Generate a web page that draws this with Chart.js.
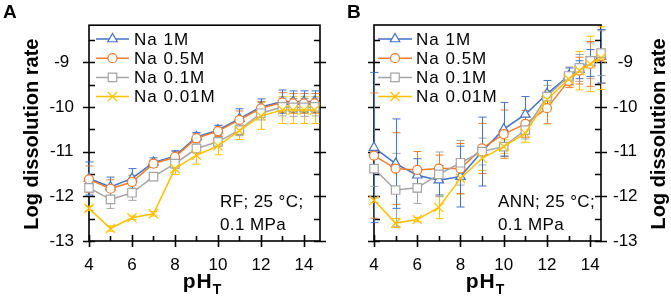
<!DOCTYPE html>
<html>
<head>
<meta charset="utf-8">
<script src="https://cdn.jsdelivr.net/npm/chart.js@4"></script>
<style>
  body { margin: 0; background: #fff; }
  #wrap { position: relative; width: 671px; height: 297px; }
  #chartA { position: absolute; left: 0; top: 0; }
  #chartB { position: absolute; left: 335px; top: 0; }
</style>
</head>
<body>
<div id="wrap">
  <canvas id="chartA" width="335" height="297"></canvas>
  <canvas id="chartB" width="336" height="297"></canvas>
</div>
<script>
// pH points shared by every series
const phValues = [4, 5, 6, 7, 8, 9, 10, 11, 12, 13, 13.5, 14, 14.5];

const seriesNames = ['Na 1M', 'Na 0.5M', 'Na 0.1M', 'Na 0.01M'];
const seriesColors = ['#4472C4', '#ED7D31', '#A5A5A5', '#FFC000'];
const seriesMarkers = ['triangle', 'circle', 'rect', 'crossRot'];
const markerRadius = [5.5, 4.5, 6, 6.5];

// panel A : RF
const rf1M   = [-11.60, -11.79, -11.60, -11.24, -11.10, -10.67, -10.52, -10.26, -10.00, -9.88, -9.88, -9.88, -9.88];
const rf05M  = [-11.62, -11.83, -11.68, -11.27, -11.12, -10.70, -10.54, -10.29, -10.03, -9.90, -9.92, -9.92, -9.92];
const rf01M  = [-11.81, -12.07, -11.92, -11.56, -11.27, -10.93, -10.78, -10.52, -10.14, -10.00, -10.01, -10.01, -10.00];
const rf001M = [-12.27, -12.72, -12.48, -12.39, -11.38, -11.08, -10.87, -10.53, -10.20, -10.07, -10.07, -10.07, -10.07];
const rf1MErr   = [0.37, 0.22, 0.22, 0.10, 0.12, 0.10, 0.11, 0.22, 0.18, 0.26, 0.24, 0.24, 0.24];
const rf05MErr  = [0.30, 0.20, 0.15, 0.08, 0.12, 0.10, 0.12, 0.20, 0.15, 0.22, 0.22, 0.22, 0.22];
const rf01MErr  = [0.17, 0.20, 0.17, 0.05, 0.10, 0.10, 0.10, 0.12, 0.15, 0.20, 0.20, 0.20, 0.20];
const rf001MErr = [0.05, 0.06, 0.04, 0.05, 0.13, 0.20, 0.20, 0.20, 0.30, 0.30, 0.30, 0.30, 0.30];

// panel B : ANN
const ann1M   = [-10.91, -11.27, -11.53, -11.64, -11.56, -11.00, -10.50, -10.17, -9.71, -9.31, -9.17, -9.02, -8.87];
const ann05M  = [-11.09, -11.38, -11.41, -11.38, -11.38, -10.93, -10.61, -10.38, -10.03, -9.42, -9.19, -9.04, -8.87];
const ann01M  = [-11.38, -11.86, -11.81, -11.51, -11.25, -11.00, -10.89, -10.52, -9.77, -9.31, -9.13, -8.97, -8.80];
const ann001M = [-12.09, -12.60, -12.52, -12.25, -11.60, -11.15, -10.89, -10.59, -9.84, -9.38, -9.19, -9.04, -8.91];
const ann1MErr   = [1.68, 1.00, 0.37, 0.33, 0.68, 0.77, 0.60, 0.40, 0.30, 0.18, 0.20, 0.30, 0.60];
const ann05MErr  = [1.40, 0.80, 0.41, 0.30, 0.56, 0.56, 0.54, 0.30, 0.35, 0.15, 0.30, 0.50, 0.60];
const ann01MErr  = [0.40, 0.82, 0.35, 0.50, 0.50, 0.30, 0.22, 0.20, 0.25, 0.20, 0.30, 0.40, 0.50];
const ann001MErr = [0.05, 0.10, 0.05, 0.25, 0.35, 0.27, 0.15, 0.20, 0.20, 0.15, 0.43, 0.62, 0.70];

// axis ticks
const yMajorTicks = [-13, -12, -11, -10, -9];
const yMinorTicks = [-12.5, -11.5, -10.5, -9.5, -8.5];
const xMajorTicks = [4, 6, 8, 10, 12, 14];
const xMinorTicks = [5, 7, 9, 11, 13];

const FONT = "'Liberation Sans', Arial, sans-serif";

// frame, crossing tick marks, error bars, legend and labels
const panelPlugin = {
  id: 'panel',
  beforeDatasetsDraw(chart, args, o) {
    const ctx = chart.ctx, a = chart.chartArea;
    const xs = chart.scales.x, ys = chart.scales.y;
    ctx.save();
    ctx.strokeStyle = '#000';
    ctx.lineWidth = 1.6;
    ctx.strokeRect(a.left, a.top, a.right - a.left, a.bottom - a.top);
    ctx.beginPath();
    yMajorTicks.forEach(v => {
      const y = Math.round(ys.getPixelForValue(v)) + 0.5;
      ctx.moveTo(a.left - 6, y); ctx.lineTo(a.left + 6, y);
      ctx.moveTo(a.right - 6, y); ctx.lineTo(a.right + 6, y);
    });
    yMinorTicks.forEach(v => {
      const y = Math.round(ys.getPixelForValue(v)) + 0.5;
      ctx.moveTo(a.left, y); ctx.lineTo(a.left + 6, y);
      ctx.moveTo(a.right - 6, y); ctx.lineTo(a.right, y);
    });
    xMajorTicks.forEach(v => {
      const x = Math.round(xs.getPixelForValue(v)) + 0.5;
      ctx.moveTo(x, a.bottom - 6); ctx.lineTo(x, a.bottom + 6);
    });
    xMinorTicks.forEach(v => {
      const x = Math.round(xs.getPixelForValue(v)) + 0.5;
      ctx.moveTo(x, a.bottom - 5); ctx.lineTo(x, a.bottom);
    });
    ctx.stroke();

    // error bars
    ctx.lineWidth = 1;
    chart.data.datasets.slice().reverse().forEach(ds => {
      ctx.strokeStyle = ds.borderColor;
      ctx.beginPath();
      ds.data.forEach((p, i) => {
        const e = ds.errors[i];
        const x = Math.round(xs.getPixelForValue(p.x)) + 0.5;
        const y1 = ys.getPixelForValue(p.y + e);
        const y2 = ys.getPixelForValue(p.y - e);
        ctx.moveTo(x, y1); ctx.lineTo(x, y2);
        ctx.moveTo(x - 4, y1); ctx.lineTo(x + 4, y1);
        ctx.moveTo(x - 4, y2); ctx.lineTo(x + 4, y2);
      });
      ctx.stroke();
    });
    ctx.restore();
  },
  afterDraw(chart, args, o) {
    const ctx = chart.ctx, a = chart.chartArea;
    ctx.save();
    ctx.fillStyle = '#000';

    // panel letter
    ctx.font = 'bold 19px ' + FONT;
    ctx.textBaseline = 'alphabetic';
    ctx.textAlign = 'left';
    ctx.fillText(o.letter, o.letterX, 18);

    // legend inside the plot
    const lg = o.legend;
    chart.data.datasets.forEach((ds, i) => {
      const y = lg.y0 + i * lg.dy;
      ctx.strokeStyle = ds.borderColor;
      ctx.lineWidth = 1.5;
      ctx.beginPath();
      ctx.moveTo(lg.x1, y); ctx.lineTo(lg.x2, y);
      ctx.stroke();
      ctx.fillStyle = '#fff';
      ctx.lineWidth = 1.2;
      Chart.helpers.drawPoint(ctx, {
        pointStyle: ds.pointStyle, radius: ds.pointRadius, borderWidth: 1.2, rotation: 0
      }, (lg.x1 + lg.x2) / 2, y);
      ctx.fillStyle = '#000';
      ctx.font = '17px ' + FONT;
      ctx.letterSpacing = '1px';
      ctx.textBaseline = 'middle';
      ctx.fillText(ds.label, lg.textX, y + 1);
      ctx.letterSpacing = '0px';
    });

    // condition note
    ctx.font = '17px ' + FONT;
    ctx.letterSpacing = '0.4px';
    ctx.textBaseline = 'middle';
    ctx.textAlign = 'left';
    ctx.fillText(o.note[0], o.noteX, 202);
    ctx.fillText(o.note[1], o.noteX, 225);
    ctx.letterSpacing = '0px';

    // x title pH with subscript T
    ctx.textBaseline = 'alphabetic';
    ctx.font = 'bold 21px ' + FONT;
    ctx.letterSpacing = '1px';
    const w1 = ctx.measureText('pH').width;
    ctx.font = 'bold 14px ' + FONT;
    const w2 = ctx.measureText('T').width;
    const cx = (a.left + a.right) / 2 - 2;
    ctx.font = 'bold 21px ' + FONT;
    ctx.fillText('pH', cx - (w1 + w2) / 2, 288);
    ctx.font = 'bold 14px ' + FONT;
    ctx.fillText('T', cx - (w1 + w2) / 2 + w1, 294);
    ctx.letterSpacing = '0px';

    // y title, reading bottom to top
    ctx.translate(o.yTitleX, (a.top + a.bottom) / 2 + 1);
    ctx.rotate(-Math.PI / 2);
    ctx.font = 'bold 20px ' + FONT;
    ctx.textAlign = 'center';
    ctx.textBaseline = 'middle';
    ctx.fillText('Log dissolution rate', 0, 0);
    ctx.restore();
  }
};

function makeDatasets(valueLists, errorLists) {
  return valueLists.map((vals, i) => ({
    label: seriesNames[i],
    data: phValues.map((x, j) => ({ x: x, y: vals[j] })),
    errors: errorLists[i],
    borderColor: seriesColors[i],
    backgroundColor: '#fff',
    borderWidth: 1.5,
    pointStyle: seriesMarkers[i],
    pointRadius: markerRadius[i],
    pointBorderWidth: 1.2,
    pointBorderColor: seriesColors[i],
    pointBackgroundColor: '#fff',
    tension: 0,
    clip: false,
    order: 3 - i
  }));
}

function makePanel(id, datasets, p) {
  return new Chart(document.getElementById(id).getContext('2d'), {
    type: 'line',
    data: { datasets: datasets },
    plugins: [panelPlugin],
    options: {
      responsive: false,
      animation: false,
      events: [],
      layout: { padding: { left: p.padLeft, right: p.padRight, top: 25, bottom: 0 } },
      plugins: {
        legend: { display: false },
        tooltip: { enabled: false },
        panel: p
      },
      scales: {
        x: {
          type: 'linear',
          position: 'bottom',
          min: 4,
          max: p.xMax,
          grid: { display: false, drawTicks: false },
          border: { display: false },
          ticks: {
            stepSize: 2,
            includeBounds: false,
            autoSkip: false,
            maxRotation: 0,
            padding: 14,
            color: '#000',
            font: { family: FONT, size: 17 }
          },
          afterFit: function(scale) { scale.height = 56; }
        },
        y: {
          type: 'linear',
          position: p.yPos,
          min: -13,
          max: -8.17,
          grid: { display: false, drawTicks: false },
          border: { display: false },
          ticks: {
            stepSize: 1,
            includeBounds: false,
            crossAlign: 'center',
            padding: p.yPad,
            color: '#000',
            font: { family: FONT, size: 17 }
          },
          afterFit: function(scale) { scale.width = p.yWidth; }
        }
      }
    }
  });
}

makePanel('chartA', makeDatasets([rf1M, rf05M, rf01M, rf001M], [rf1MErr, rf05MErr, rf01MErr, rf001MErr]), {
  letter: 'A', letterX: 3,
  padLeft: 0, padRight: 15, yPos: 'left', yWidth: 89, yPad: 15, xMax: 14.75,
  legend: { x1: 96, x2: 129, textX: 134, y0: 39, dy: 19.2 },
  note: ['RF; 25 °C;', '0.1 MPa'], noteX: 220,
  yTitleX: 32
});

makePanel('chartB', makeDatasets([ann1M, ann05M, ann01M, ann001M], [ann1MErr, ann05MErr, ann01MErr, ann001MErr]), {
  letter: 'B', letterX: 12,
  padLeft: 39, padRight: 0, yPos: 'right', yWidth: 70, yPad: 12, xMax: 14.5,
  legend: { x1: 43, x2: 77, textX: 81, y0: 39, dy: 19.2 },
  note: ['ANN; 25 °C;', '0.1 MPa'], noteX: 163,
  yTitleX: 324
});
</script>
</body>
</html>
